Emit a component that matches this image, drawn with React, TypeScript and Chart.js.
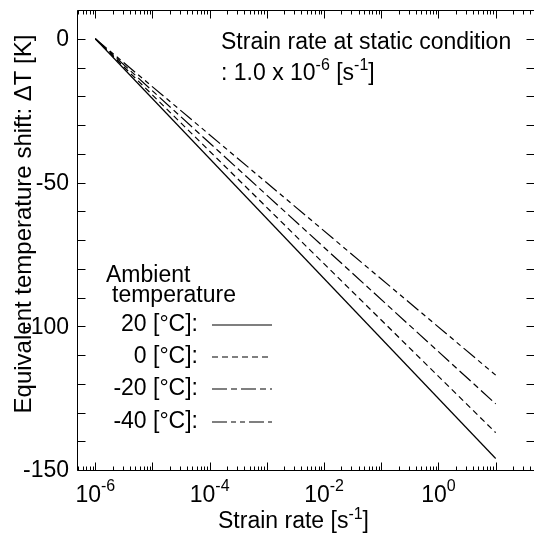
import React, { useEffect, useRef } from "react";
import { Chart, registerables } from "chart.js";

Chart.register(...registerables);

// ---- data ----
const strainRates = [1e-6, 10];
const dT_20C = [0, -146];
const dT_0C = [0, -137];
const dT_m20C = [0, -127];
const dT_m40C = [0, -117];
const seriesLabels = ["20 [°C]:", "0 [°C]:", "-20 [°C]:", "-40 [°C]:"];
const seriesValues = [dT_20C, dT_0C, dT_m20C, dT_m40C];
const seriesDashes = [[], [6, 4], [15, 4, 6, 4], [15, 4, 5, 4, 5, 4]];
const xTickExponents = [-6, -4, -2, 0];
const yTickLabels = [0, -50, -100, -150];

const FONT = "'Liberation Sans', Arial, Helvetica, sans-serif";
const FS = 23;
const SUP = 16;

type Part = [string, boolean];

function drawParts(ctx: CanvasRenderingContext2D, parts: Part[], x: number, y: number, align: "left" | "center" | "right", size: number, supSize: number, raise: number) {
  let total = 0;
  const widths: number[] = [];
  for (const [t, sup] of parts) {
    ctx.font = `${sup ? supSize : size}px ${FONT}`;
    const w = ctx.measureText(t).width;
    widths.push(w);
    total += w;
  }
  let cx = align === "left" ? x : align === "center" ? x - total / 2 : x - total;
  ctx.textAlign = "left";
  ctx.textBaseline = "alphabetic";
  parts.forEach(([t, sup], i) => {
    ctx.font = `${sup ? supSize : size}px ${FONT}`;
    ctx.fillText(t, cx, sup ? y - raise : y);
    cx += widths[i];
  });
}

const framePlugin = {
  id: "frame",
  afterDraw(chart: any) {
    const ctx: CanvasRenderingContext2D = chart.ctx;
    const { left, right, top, bottom } = chart.chartArea;
    const xs = chart.scales.x;
    const ys = chart.scales.y;
    const L = Math.round(left) + 0.5;
    const T = Math.round(top) + 0.5;
    const B = Math.round(bottom) + 0.5;
    const R = Math.round(right) + 0.5;
    ctx.save();
    ctx.strokeStyle = "#000";
    ctx.fillStyle = "#000";
    ctx.lineWidth = 1;
    ctx.setLineDash([]);
    // frame
    ctx.beginPath();
    ctx.moveTo(R, T);
    ctx.lineTo(L, T);
    ctx.lineTo(L, B);
    ctx.lineTo(R, B);
    ctx.lineTo(R, T);
    ctx.stroke();

    // x ticks (log)
    const minE = Math.floor(Math.log10(xs.min));
    const maxE = Math.ceil(Math.log10(xs.max));
    ctx.beginPath();
    for (let e = minE; e <= maxE; e++) {
      for (let m = 1; m <= 9; m++) {
        const v = m * Math.pow(10, e);
        if (v < xs.min || v > xs.max) continue;
        const px = Math.round(xs.getPixelForValue(v)) + 0.5;
        const len = m === 1 ? 8 : 4;
        ctx.moveTo(px, B);
        ctx.lineTo(px, B - len);
        ctx.moveTo(px, T);
        ctx.lineTo(px, T + len);
      }
    }
    // y ticks
    for (let v = -150; v <= 10; v += 10) {
      const py = Math.round(ys.getPixelForValue(v)) + 0.5;
      ctx.moveTo(L, py);
      ctx.lineTo(L + 8, py);
      ctx.moveTo(R, py);
      ctx.lineTo(R - 8, py);
    }
    ctx.stroke();

    // y tick labels
    ctx.font = `${FS}px ${FONT}`;
    ctx.textAlign = "right";
    ctx.textBaseline = "middle";
    for (const v of yTickLabels) {
      ctx.fillText(String(v), left - 8, ys.getPixelForValue(v) + 1);
    }
    // x tick labels
    for (const e of xTickExponents) {
      const px = xs.getPixelForValue(Math.pow(10, e));
      drawParts(ctx, [["10", false], [String(e), true]], px, 502, "center", FS, SUP, 11);
    }
    // axis titles
    drawParts(ctx, [["Strain rate [s", false], ["-1", true], ["]", false]], 218, 528, "left", FS, SUP, 9);
    ctx.save();
    ctx.translate(31, 224);
    ctx.rotate(-Math.PI / 2);
    ctx.font = `24px ${FONT}`;
    ctx.textAlign = "center";
    ctx.textBaseline = "alphabetic";
    ctx.fillText("Equivalent temperature shift: \u0394T [K]", 0, 0);
    ctx.restore();

    // annotation
    drawParts(ctx, [["Strain rate at static condition", false]], 221, 49, "left", FS, SUP, 9);
    drawParts(ctx, [[": 1.0 x 10", false], ["-6", true], [" [s", false], ["-1", true], ["]", false]], 221, 80, "left", FS, SUP, 10);

    // legend
    drawParts(ctx, [["Ambient", false]], 106, 282, "left", FS, SUP, 9);
    drawParts(ctx, [["temperature", false]], 112, 302, "left", FS, SUP, 9);
    const baselines = [331, 363, 395, 428];
    seriesLabels.forEach((lab, i) => {
      drawParts(ctx, [[lab, false]], 198, baselines[i], "right", FS, SUP, 9);
      ctx.beginPath();
      ctx.lineWidth = 1.2;
      ctx.setLineDash(seriesDashes[i]);
      ctx.moveTo(212, baselines[i] - 6);
      ctx.lineTo(272, baselines[i] - 6);
      ctx.stroke();
    });
    ctx.restore();
  },
};

export default function App() {
  const ref = useRef<HTMLCanvasElement | null>(null);
  useEffect(() => {
    if (!ref.current) return;
    const chart = new Chart(ref.current, {
      type: "line",
      data: {
        datasets: seriesValues.map((vals, i) => ({
          label: seriesLabels[i],
          data: strainRates.map((x, j) => ({ x, y: vals[j] })),
          borderColor: "#000",
          borderWidth: 1.2,
          borderDash: seriesDashes[i],
          pointRadius: 0,
          fill: false,
          tension: 0,
        })),
      },
      options: {
        responsive: false,
        maintainAspectRatio: false,
        animation: false,
        layout: { padding: { left: 77, top: 10, right: -2, bottom: 63 } },
        plugins: { legend: { display: false }, tooltip: { enabled: false } },
        scales: {
          x: { type: "logarithmic", display: false, min: Math.pow(10, -6.32), max: Math.pow(10, 1.67) },
          y: { type: "linear", display: false, min: -150, max: 10 },
        },
      },
      plugins: [framePlugin],
    });
    return () => chart.destroy();
  }, []);
  return (
    <div style={{ position: "fixed", left: 0, top: 0, width: 534, height: 533, overflow: "hidden", background: "#fff" }}>
      <canvas ref={ref} width={534} height={533} style={{ width: 534, height: 533, display: "block" }} />
    </div>
  );
}
